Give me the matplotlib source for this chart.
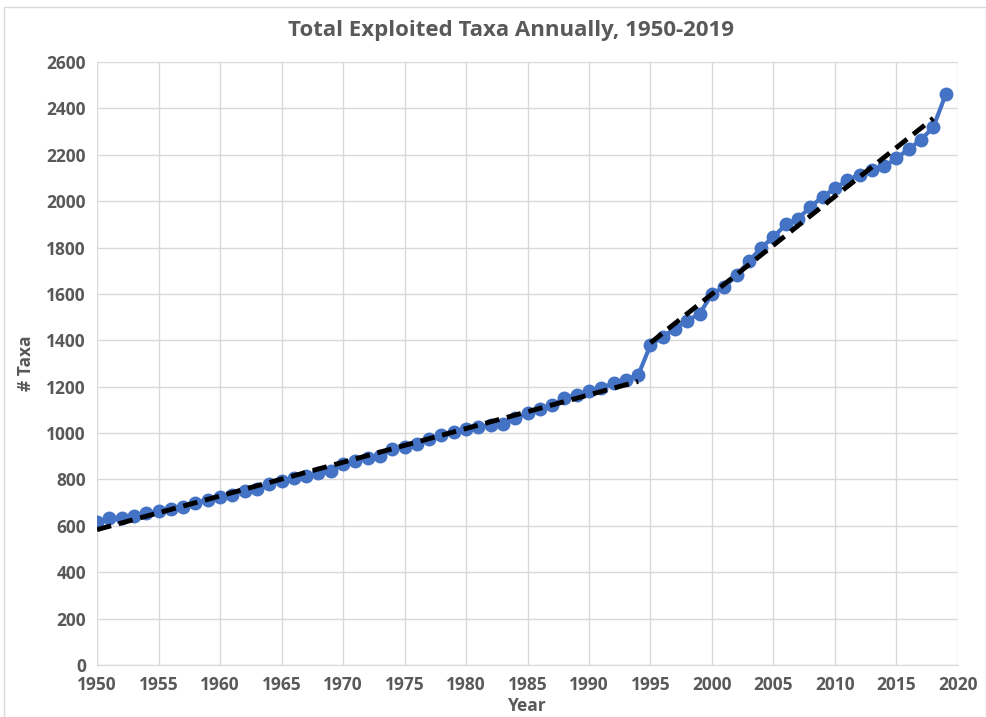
import matplotlib
matplotlib.use("Agg")
import matplotlib.pyplot as plt
import numpy as np
from matplotlib.patches import Rectangle

years = list(range(1950, 2020))
taxa = [616, 632, 634, 642, 655, 662, 672, 683, 700, 712,
        723, 735, 750, 760, 782, 795, 806, 815, 826, 835,
        868, 880, 893, 900, 930, 940, 955, 974, 990, 1005,
        1018, 1026, 1036, 1040, 1065, 1085, 1105, 1120, 1150, 1165,
        1180, 1195, 1215, 1230, 1250, 1380, 1415, 1450, 1485, 1515,
        1600, 1630, 1680, 1740, 1800, 1845, 1900, 1925, 1975, 2020,
        2055, 2090, 2115, 2135, 2150, 2185, 2225, 2265, 2320, 2460]
break_year = 1995
x_ticks = list(range(1950, 2021, 5))
y_ticks = list(range(0, 2601, 200))

fam = ['Open Sans', 'DejaVu Sans']
plt.rcParams['font.family'] = fam

fig = plt.figure(figsize=(9.87, 7.17), dpi=100)
ax = fig.add_axes([0.0983, 0.0725, 0.8723, 0.841])

yrs = np.array(years)
vals = np.array(taxa)
ax.plot(yrs, vals, color='#4472C4', lw=3, marker='o', ms=9, zorder=3)

m1 = yrs < break_year
c1 = np.polyfit(yrs[m1], vals[m1], 1)
ax.plot(yrs[m1], np.polyval(c1, yrs[m1]), color='black', lw=3.5,
        ls=(0, (3, 1.6)), zorder=4)
m2 = yrs >= break_year
c2 = np.polyfit(yrs[m2], vals[m2], 1)
xs2 = yrs[m2][:-1]
ax.plot(xs2, np.polyval(c2, xs2), color='black', lw=3.5,
        ls=(0, (3, 1.6)), zorder=4)

ax.set_xlim(1950, 2020)
ax.set_ylim(0, 2600)
ax.set_xticks(x_ticks)
ax.set_yticks(y_ticks)
ax.grid(True, color='#d9d9d9', lw=1)
ax.set_axisbelow(True)
for s in ['top', 'right', 'left']:
    ax.spines[s].set_visible(False)
ax.spines['bottom'].set_color('#d9d9d9')
ax.tick_params(length=0, labelsize=12.5, colors='#595959', pad=8)
for lab in ax.get_xticklabels() + ax.get_yticklabels():
    lab.set_fontweight('bold')
ax.set_xlabel('Year', fontsize=12.5, fontweight='bold', color='#595959', labelpad=2)
ax.set_ylabel('# Taxa', fontsize=12.5, fontweight='bold', color='#595959', labelpad=8)
fig.text(0.518, 0.958, 'Total Exploited Taxa Annually, 1950-2019', ha='center', va='center',
         fontsize=16, fontweight='bold', color='#595959')
fig.patches.append(Rectangle((0.004, -0.01), 0.995, 1.0, transform=fig.transFigure,
                             fill=False, edgecolor='#d9d9d9', lw=1))
fig.savefig('out.png', dpi=100)
